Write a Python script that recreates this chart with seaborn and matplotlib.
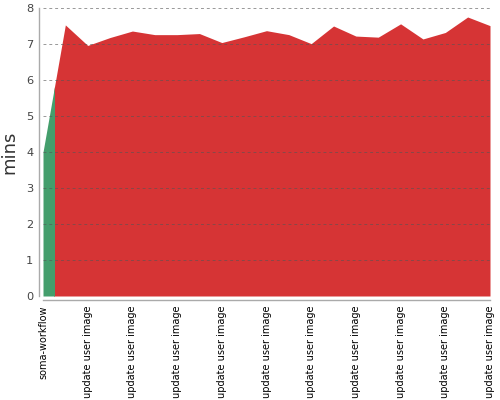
import numpy as np
import pandas as pd
import matplotlib
matplotlib.use("Agg")
import matplotlib.pyplot as plt
from matplotlib.patches import Rectangle
import seaborn as sns

sns.set_style("white")

# build durations (minutes), one per step
steps = ["soma-workflow"] + ["update user image"] * 20
mins = [4.0, 7.53, 6.96, 7.18, 7.36, 7.26, 7.26, 7.29, 7.04, 7.2,
        7.37, 7.26, 7.01, 7.5, 7.22, 7.19, 7.56, 7.14, 7.32, 7.75, 7.51]
tick_labels = [s if i % 2 == 0 else "" for i, s in enumerate(steps)]

df = pd.DataFrame({"step": np.arange(len(mins)), "mins": mins})

green = "#449e6c"
red = "#d63435"

fig = plt.figure(figsize=(5, 4), dpi=100)
ax = fig.add_axes([0.086, 0.26, 0.894, 0.72])

# spines first: moving them resets the tick styling
sns.despine(ax=ax)
for sp in ["left", "bottom"]:
    ax.spines[sp].set_position(("outward", 3))
    ax.spines[sp].set_color("#aaaaaa")
    ax.spines[sp].set_linewidth(1)

# red area for the whole run, green for the first (soma-workflow) half-step
red_fill = ax.fill_between(df["step"], df["mins"], color=red, lw=0, zorder=2)
red_fill.set_clip_path(Rectangle((0.5, 0), 100, 100, transform=ax.transData))
green_fill = ax.fill_between(df["step"][:2], df["mins"][:2], color=green, lw=0, zorder=2)
green_fill.set_clip_path(Rectangle((0, 0), 0.5, 100, transform=ax.transData))

ax.set_xlim(0, len(mins) - 1)
ax.set_ylim(0, 8)
ax.set_xticks(df["step"])
ax.set_xticklabels(tick_labels, rotation=90, fontsize=7.0, color="#000000")
ax.set_yticks(range(0, 9))
ax.tick_params(axis="y", labelsize=8.2, colors="#444444", length=0, pad=4)
ax.tick_params(axis="x", length=3, color="#aaaaaa", pad=0.5)
ax.yaxis.grid(True, linestyle=(0, (3, 3)), color="#555555", alpha=0.6, lw=0.7, zorder=3)
ax.set_axisbelow(False)
ax.set_ylabel("mins", fontsize=13, color="#333333")
ax.yaxis.set_label_coords(-0.056, 0.5)

fig.savefig("out.png", dpi=100)
